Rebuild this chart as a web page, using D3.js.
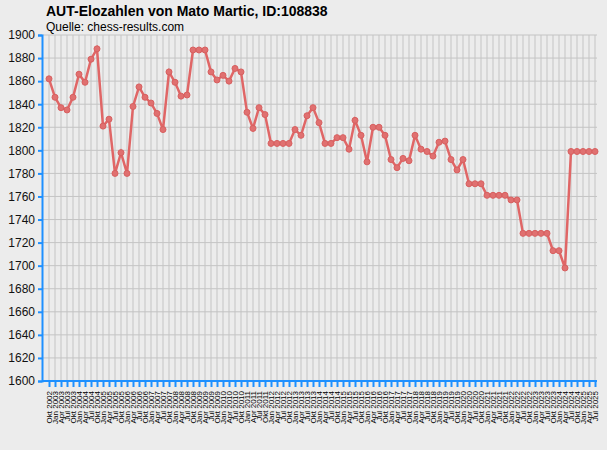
<!DOCTYPE html>
<html><head><meta charset="utf-8">
<script src="https://cdn.jsdelivr.net/npm/d3@7"></script>
<style>body{margin:0;background:#ececec;font-family:"Liberation Sans",Arial,sans-serif}</style>
</head><body>
<script>
const dates = [
 "Okt 2002","Jan 2003","Apr 2003","Jul 2003","Okt 2003","Jan 2004","Apr 2004","Jul 2004","Okt 2004","Jan 2005","Apr 2005","Jul 2005",
 "Okt 2005","Jan 2006","Apr 2006","Jul 2006","Okt 2006","Jan 2007","Apr 2007","Jul 2007","Okt 2007","Jan 2008","Apr 2008","Jul 2008",
 "Okt 2008","Jan 2009","Apr 2009","Jul 2009","Okt 2009","Jan 2010","Apr 2010","Jul 2010","Okt 2010","Jan 2011","Apr 2011","Jul 2011",
 "Okt 2011","Jan 2012","Apr 2012","Jul 2012","Okt 2012","Jan 2013","Apr 2013","Jul 2013","Okt 2013","Jan 2014","Apr 2014","Jul 2014",
 "Okt 2014","Jan 2015","Apr 2015","Jul 2015","Okt 2015","Jan 2016","Apr 2016","Jul 2016","Okt 2016","Jan 2017","Apr 2017","Jul 2017",
 "Okt 2017","Jan 2018","Apr 2018","Jul 2018","Okt 2018","Jan 2019","Apr 2019","Jul 2019","Okt 2019","Jan 2020","Apr 2020","Jul 2020",
 "Okt 2020","Jan 2021","Apr 2021","Jul 2021","Okt 2021","Jan 2022","Apr 2022","Jul 2022","Okt 2022","Jan 2023","Apr 2023","Jul 2023",
 "Okt 2023","Jan 2024","Apr 2024","Jul 2024","Okt 2024","Jan 2025","Apr 2025","Jul 2025"];
const elo = [
 1862,1846,1837,1835,1846,1866,1859,1879,1888,1821,1827,1780,1798,1780,1838,1855,1846,1841,1832,1818,
 1868,1859,1847,1848,1887,1887,1887,1868,1861,1865,1860,1871,1868,1833,1819,1837,1831,1806,1806,1806,
 1806,1818,1813,1830,1837,1824,1806,1806,1811,1811,1801,1826,1813,1790,1820,1820,1813,1792,1785,1793,
 1791,1813,1801,1799,1795,1807,1808,1792,1783,1792,1771,1771,1771,1761,1761,1761,1761,1757,1757,1728,
 1728,1728,1728,1728,1713,1713,1698,1799,1799,1799,1799,1799];
const yTicks = d3.range(1600, 1901, 20);

const W = 607, H = 450, mLeft = 42, mTop = 35, mBottom = 381, mRight = 597;
const svg = d3.select("body").append("svg").attr("width", W).attr("height", H);

const x = d3.scalePoint().domain(dates).range([49, 595]);
const y = d3.scaleLinear().domain([1600, 1900]).range([mBottom, mTop]);

// grid
svg.append("g").selectAll("line").data(dates).join("line")
  .attr("x1", d => x(d)).attr("x2", d => x(d)).attr("y1", mTop).attr("y2", mBottom)
  .attr("stroke", "#c4c4c4").attr("stroke-width", 1);
svg.append("g").selectAll("line").data(yTicks).join("line")
  .attr("x1", mLeft).attr("x2", mRight).attr("y1", d => y(d)).attr("y2", d => y(d))
  .attr("stroke", "#c4c4c4").attr("stroke-width", 1);

// axes
svg.append("g").attr("transform", `translate(${mLeft},0)`)
  .call(d3.axisLeft(y).tickValues(yTicks).tickSize(4).tickFormat(d3.format("d")))
  .call(g => g.selectAll("line,path").attr("stroke", "#1e90ff").attr("stroke-width", 2))
  .call(g => g.selectAll("text").attr("font-size", 12).attr("fill", "#111").attr("font-family", "Liberation Sans"));
svg.append("g").attr("transform", `translate(0,${mBottom})`)
  .call(d3.axisBottom(x).tickSize(6).tickSizeOuter(0))
  .call(g => g.select("path").attr("stroke", "#1e90ff").attr("stroke-width", 2).attr("d", `M${mLeft},0H${mRight}`))
  .call(g => g.selectAll("line").attr("stroke", "#1e90ff").attr("stroke-width", 2))
  .call(g => g.selectAll("text").attr("font-size", 8).attr("fill", "#000").attr("font-family", "Liberation Sans")
    .attr("transform", "rotate(-90)").attr("text-anchor", "end").attr("dy", "0.32em").attr("x", -10).attr("y", 0));

// line + points
svg.append("path").datum(elo)
  .attr("d", d3.line().x((d, i) => x(dates[i])).y(d => y(d)))
  .attr("fill", "none").attr("stroke", "#e06666").attr("stroke-width", 2.5);
svg.append("g").selectAll("circle").data(elo).join("circle")
  .attr("cx", (d, i) => x(dates[i])).attr("cy", d => y(d)).attr("r", 3)
  .attr("fill", "#e07070").attr("stroke", "#d86060");

svg.append("text").attr("x", 46).attr("y", 16).attr("font-size", 14).attr("font-weight", "bold")
  .text("AUT-Elozahlen von Mato Martic, ID:108838");
svg.append("text").attr("x", 46).attr("y", 31).attr("font-size", 12)
  .text("Quelle: chess-results.com");
</script>
</body></html>
